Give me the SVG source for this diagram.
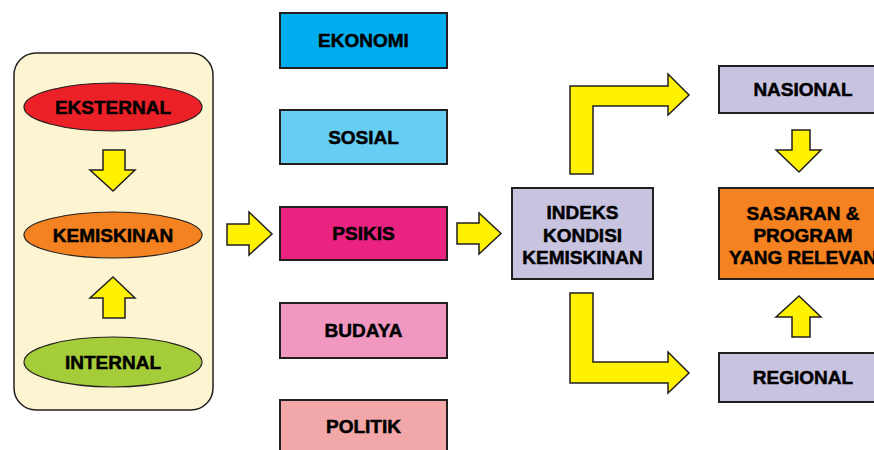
<svg xmlns="http://www.w3.org/2000/svg" width="874" height="450" viewBox="0 0 874 450">
<style>
.t{font-family:"Liberation Sans",Arial,sans-serif;font-weight:bold;font-size:19px;fill:#000;stroke:#000;stroke-width:0.5;text-anchor:middle}
.box{stroke:#231f20;stroke-width:2}
.ell{stroke:#231f20;stroke-width:1.2}
.arr{fill:#fff200;stroke:#231f20;stroke-width:1.5;stroke-linejoin:miter}
</style>
<rect width="874" height="450" fill="#fff"/>
<g id="panel">
<rect x="14" y="53" width="199" height="357" rx="22" ry="22" fill="#fdf5d2" stroke="#231f20" stroke-width="1.5"/>
</g>
<g id="eksternal"><ellipse class="ell" cx="113" cy="107" rx="89" ry="24" fill="#ec2027"/><text class="t" x="113" y="113.5">EKSTERNAL</text></g>
<g id="kemiskinan"><ellipse class="ell" cx="113" cy="235" rx="89" ry="23" fill="#f58220"/><text class="t" x="113" y="241.5">KEMISKINAN</text></g>
<g id="internal"><ellipse class="ell" cx="113" cy="362" rx="89" ry="25" fill="#a5cd39"/><text class="t" x="113" y="368.5">INTERNAL</text></g>
<g id="ekonomi"><rect class="box" x="280" y="13" width="167" height="55" fill="#00aeef"/><text class="t" x="363.5" y="47">EKONOMI</text></g>
<g id="sosial"><rect class="box" x="280" y="110" width="167" height="54" fill="#66cdf3"/><text class="t" x="363.5" y="143.5">SOSIAL</text></g>
<g id="psikis"><rect class="box" x="280" y="207" width="167" height="53" fill="#e9237f"/><text class="t" x="363.5" y="240">PSIKIS</text></g>
<g id="budaya"><rect class="box" x="280" y="303" width="167" height="55" fill="#f198c0"/><text class="t" x="363.5" y="337">BUDAYA</text></g>
<g id="politik"><rect class="box" x="280" y="400" width="167" height="60" fill="#f2a8a8"/><text class="t" x="363.5" y="433">POLITIK</text></g>
<g id="indeks"><rect class="box" x="512" y="188" width="141" height="91" fill="#c8c4e0"/><text class="t" x="582.5" y="219">INDEKS</text><text class="t" x="582.5" y="241.5">KONDISI</text><text class="t" x="582.5" y="264">KEMISKINAN</text></g>
<g id="nasional"><rect class="box" x="719" y="66" width="170" height="47" fill="#c8c4e0"/><text class="t" x="803" y="96">NASIONAL</text></g>
<g id="sasaran"><rect class="box" x="719" y="188" width="170" height="91" fill="#f58220"/><text class="t" x="803" y="219.5">SASARAN &amp;</text><text class="t" x="803" y="241.5">PROGRAM</text><text class="t" x="803" y="263.5">YANG RELEVAN</text></g>
<g id="regional"><rect class="box" x="719" y="353" width="170" height="49" fill="#c8c4e0"/><text class="t" x="803" y="384">REGIONAL</text></g>
<g id="connectors">
<path class="arr" d="M103,150 H125 V170 H135 L113,191 L90,170 H103 Z"/>
<path class="arr" d="M103,318 H125 V298 H135 L113,277 L90,298 H103 Z"/>
<path class="arr" d="M227,224 H249 V212 L272,234 L249,255 V245 H227 Z"/>
<path class="arr" d="M457,223 H479 V213 L501,233.5 L479,254 V244 H457 Z"/>
<path class="arr" d="M570,174 V86 H668 V74 L689,95 L668,115 V106 H593 V174 Z"/>
<path class="arr" d="M570,293 V383 H668 V393 L689,373 L668,352 V362 H593 V293 Z"/>
<path class="arr" d="M792,130 H810 V150 H821 L799,172 L776,150 H792 Z"/>
<path class="arr" d="M792,337 H810 V317 H821 L799,296 L776,317 H792 Z"/>
</g>
</svg>
